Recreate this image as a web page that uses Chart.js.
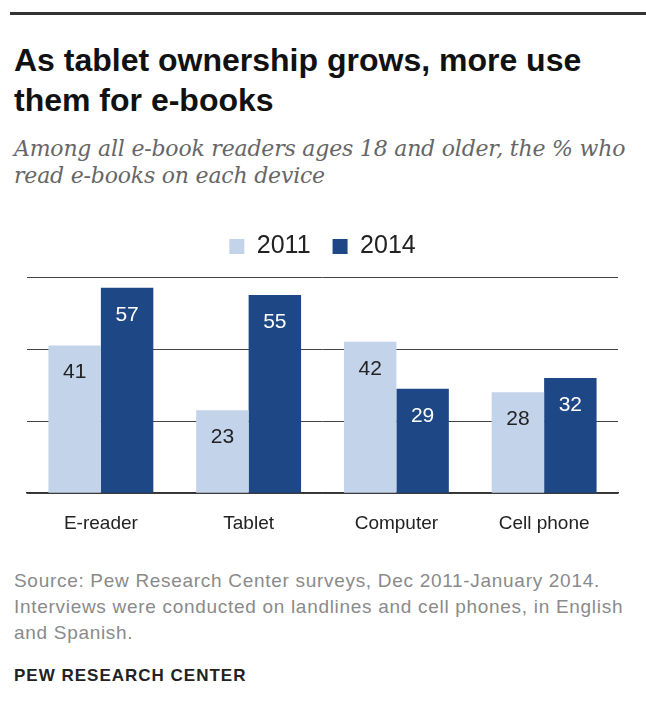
<!DOCTYPE html>
<html>
<head>
<meta charset="utf-8">
<script src="https://cdn.jsdelivr.net/npm/chart.js@4/dist/chart.umd.min.js"></script>
<style>
  body { margin: 0; background: #fff; width: 646px; height: 713px; position: relative; overflow: hidden; }
  #rule { position: absolute; left: 10px; right: 0; top: 12px; height: 3px; background: #333; }
  #title { position: absolute; left: 14px; top: 40px; width: 630px; font-family: "Liberation Sans", Arial, sans-serif; font-weight: bold; font-size: 32px; line-height: 40px; color: #111; white-space: nowrap; }
  #subtitle { position: absolute; left: 14px; top: 135px; width: 632px; font-family: "DejaVu Serif", serif; font-style: italic; font-size: 22px; line-height: 27px; color: #666; white-space: nowrap; letter-spacing: -0.2px; }
  #wrap { position: absolute; left: 0; top: 212px; width: 646px; height: 334px; }
  #source { position: absolute; left: 14px; top: 568px; width: 632px; font-family: "Liberation Sans", Arial, sans-serif; font-size: 19px; line-height: 26px; color: #8a8a8a; white-space: nowrap; letter-spacing: 0.7px; }
  #brand { position: absolute; left: 14px; top: 666px; font-family: "Liberation Sans", Arial, sans-serif; font-weight: bold; font-size: 17px; color: #222; letter-spacing: 1px; }
</style>
</head>
<body>
<div id="rule"></div>
<div id="title">As tablet ownership grows, more use<br>them for e-books</div>
<div id="subtitle">Among all e-book readers ages 18 and older, the % who<br>read e-books on each device</div>
<div id="wrap"><canvas id="chart"></canvas></div>
<div id="source">Source: Pew Research Center surveys, Dec 2011-January 2014.<br>Interviews were conducted on landlines and cell phones, in English<br>and Spanish.</div>
<div id="brand">PEW RESEARCH CENTER</div>
<script>
const devices = ["E-reader", "Tablet", "Computer", "Cell phone"];
const values2011 = [41, 23, 42, 28];
const values2014 = [57, 55, 29, 32];
const yTicks = [0, 20, 40, 60];

// write the value inside the top of every bar
const barLabels = {
  id: "barLabels",
  afterDatasetsDraw(chart) {
    const ctx = chart.ctx;
    ctx.save();
    ctx.font = "21px 'Liberation Sans', Arial, sans-serif";
    ctx.textAlign = "center";
    ctx.textBaseline = "middle";
    chart.data.datasets.forEach((ds, i) => {
      chart.getDatasetMeta(i).data.forEach((bar, j) => {
        ctx.fillStyle = i === 0 ? "#222" : "#fff";
        ctx.fillText(ds.data[j], bar.x, bar.y + 27);
      });
    });
    ctx.restore();
  }
};

// a bit more room under the legend
const legendGap = {
  id: "legendGap",
  beforeInit(chart) {
    const fit = chart.legend.fit;
    chart.legend.fit = function() {
      fit.bind(chart.legend)();
      this.height += 8;
    };
  }
};

const ctx = document.getElementById("chart").getContext("2d");
new Chart(ctx, {
  type: "bar",
  data: {
    labels: devices,
    datasets: [
      { label: "2011", data: values2011, backgroundColor: "#c3d3ea" },
      { label: "2014", data: values2014, backgroundColor: "#1d4785" }
    ]
  },
  options: {
    responsive: true,
    maintainAspectRatio: false,
    animation: false,
    layout: { padding: { left: 27, right: 28, top: 0, bottom: 0 } },
    datasets: { bar: { categoryPercentage: 0.71, barPercentage: 1 } },
    plugins: {
      legend: {
        position: "top",
        labels: {
          boxWidth: 15, boxHeight: 15, padding: 22,
          color: "#222",
          font: { family: "'Liberation Sans', Arial, sans-serif", size: 25 }
        }
      },
      tooltip: { enabled: false }
    },
    scales: {
      x: {
        grid: { display: false },
        border: { color: "#333", width: 1.5 },
        ticks: { color: "#222", padding: 11, font: { family: "'Liberation Sans', Arial, sans-serif", size: 19 } }
      },
      y: {
        min: 0, max: 60,
        afterBuildTicks: (scale) => { scale.ticks = yTicks.map(v => ({ value: v })); },
        grid: { color: "#444", lineWidth: 1, drawTicks: false },
        border: { display: false },
        ticks: { display: false }
      }
    }
  },
  plugins: [barLabels, legendGap]
});
</script>
</body>
</html>
